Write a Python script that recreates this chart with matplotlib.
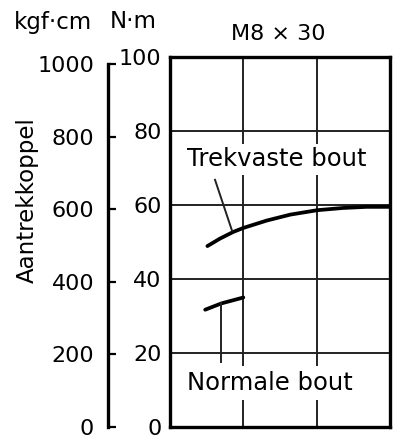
import matplotlib
matplotlib.use("Agg")
import matplotlib.pyplot as plt
import numpy as np

plt.rcParams['font.family'] = ['DejaVu Sans']

# Data (torque in N·m vs. relative position along x, 0..3 grid units)
trek_x = [0.51, 0.68, 0.86, 1.00, 1.32, 1.64, 2.01, 2.36, 2.68, 3.00]
trek_y = [48.9, 50.9, 52.7, 53.8, 55.8, 57.4, 58.6, 59.2, 59.5, 59.5]
norm_x = [0.48, 0.70, 1.00]
norm_y = [31.7, 33.4, 35.0]

nm_ticks = [0, 20, 40, 60, 80, 100]
kgf_ticks = [0, 200, 400, 600, 800, 1000]
NM_PER_KGFCM = 0.0980665

label_trek = "Trekvaste bout"
label_norm = "Normale bout"
title = "M8 × 30"
ylabel = "Aantrekkoppel"
unit_kgf = "kgf·cm"
unit_nm = "N·m"

# leader lines (data coords)
trek_leader_x = [0.614, 0.845]
trek_leader_y = [66.8, 53.1]
norm_leader_x = [0.70, 0.70]
norm_leader_y = [33.4, 17.6]

W, H = 409, 443
fig = plt.figure(figsize=(W / 100, H / 100), dpi=100)
ax = fig.add_axes([170 / W, 16 / H, 220 / W, 370 / H])

ax.set_xlim(0, 3)
ax.set_ylim(0, 100)
ax.set_yticks(nm_ticks)
ax.set_xticks([1, 2])
ax.tick_params(axis='x', length=0, labelbottom=False)
ax.tick_params(axis='y', length=0, pad=6, labelsize=16)
ax.grid(True, color='#222222', linewidth=1.4)
ax.set_axisbelow(True)
for s in ax.spines.values():
    s.set_linewidth(2.4)

ax.plot(trek_x, trek_y, color='black', linewidth=2.7, solid_capstyle='round',
        solid_joinstyle='round', zorder=3)
ax.plot(norm_x, norm_y, color='black', linewidth=2.7, solid_capstyle='round',
        solid_joinstyle='round', zorder=3)
ax.plot(trek_leader_x, trek_leader_y, color='#222222', linewidth=1.4, zorder=3)
ax.plot(norm_leader_x, norm_leader_y, color='#222222', linewidth=1.4, zorder=3)

ax.text(1.46, 72.4, label_trek, ha='center', va='center', fontsize=17.5, zorder=4,
        bbox=dict(facecolor='white', edgecolor='none', pad=2.5))
ax.text(1.36, 11.9, label_norm, ha='center', va='center', fontsize=17.5, zorder=4,
        bbox=dict(facecolor='white', edgecolor='none', pad=3.5))

# secondary kgf·cm scale
ax2 = fig.add_axes([108 / W, 16 / H, 0.0001, 370 / H])
ax2.set_ylim(0, 100 / NM_PER_KGFCM)
ax2.set_yticks(kgf_ticks)
ax2.set_xticks([])
ax2.patch.set_visible(False)
for k in ['top', 'right', 'bottom']:
    ax2.spines[k].set_visible(False)
ax2.spines['left'].set_linewidth(2.4)
ax2.spines['left'].set_bounds(0, 1000)
ax2.tick_params(axis='y', direction='in', length=6, width=1.6, pad=10, labelsize=16)

fig.text(52.5 / W, 1 - 23 / H, unit_kgf, ha='center', va='center', fontsize=16.5)
fig.text(133.5 / W, 1 - 22 / H, unit_nm, ha='center', va='center', fontsize=16.5)
fig.text(278 / W, 1 - 34 / H, title, ha='center', va='center', fontsize=16)
fig.text(27 / W, 1 - 200 / H, ylabel, ha='center', va='center', rotation=90, fontsize=16.5)

fig.savefig("out.png", dpi=100)
